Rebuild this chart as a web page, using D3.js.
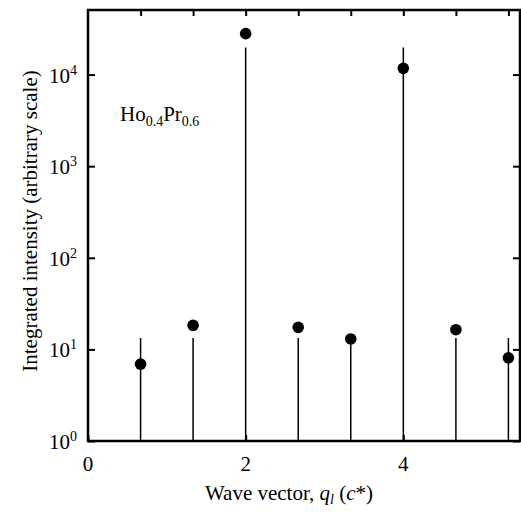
<!DOCTYPE html>
<html>
<head>
<meta charset="utf-8">
<script src="https://cdn.jsdelivr.net/npm/d3@7"></script>
<style>
body{margin:0;background:#fff}
</style>
</head>
<body>
<div id="chart"></div>
<script>
// wave vector positions (c*)
var qPos = [0.667, 1.333, 2, 2.667, 3.333, 4, 4.667, 5.333]
// measured integrated intensity (dots)
var measured = [6.9, 18.3, 28000, 17.4, 13.0, 11700, 16.4, 8.1]
// calculated intensity (stems)
var calc = [13.3, 13.3, 19800, 13.3, 13.3, 19800, 13.3, 13.3]
var xTicks = [0, 2, 4]
var xMinor = [0.667, 1.333, 2, 2.667, 3.333, 4, 4.667, 5.333]
var yTicks = [1, 10, 100, 1000, 10000]

var W = 521, H = 515
var m = {l:88, r:1, t:10, b:74}
var FONT = "'Liberation Serif', 'Times New Roman', Times, serif"

var svg = d3.select("#chart").append("svg").attr("width",W).attr("height",H)
	.attr("font-family",FONT)

var x = d3.scaleLinear().domain([0,5.48]).range([m.l, W-m.r])
var y = d3.scaleLog().domain([1, Math.pow(10,4.705)]).range([H-m.b, m.t])

// stems
svg.selectAll("line.stem").data(qPos).enter().append("line")
	.attr("class","stem")
	.attr("x1",function(d){return x(d)}).attr("x2",function(d){return x(d)})
	.attr("y1",y(1)).attr("y2",function(d,i){return y(calc[i])})
	.attr("stroke","#000").attr("stroke-width",1.5)

// dots
svg.selectAll("circle").data(qPos).enter().append("circle")
	.attr("cx",function(d){return x(d)})
	.attr("cy",function(d,i){return y(measured[i])})
	.attr("r",5.8).attr("fill","#000")

// left axis
var yl = svg.append("g").attr("transform","translate("+m.l+",0)")
	.call(d3.axisRight(y).tickValues(yTicks).tickSize(7).tickFormat(""))
yl.select(".domain").remove()
yl.selectAll("line").attr("stroke-width",2)
svg.selectAll("text.ylab").data(yTicks).enter().append("text")
	.attr("class","ylab")
	.attr("x",m.l-11).attr("y",function(d){return y(d)+8})
	.attr("text-anchor","end").attr("font-family",FONT).style("font-size","21px")
	.each(function(d){
		var e = Math.round(Math.log10(d))
		var t = d3.select(this)
		t.append("tspan").text("10")
		t.append("tspan").text(e).attr("dy",-8).style("font-size","14px")
	})

// right axis
var yr = svg.append("g").attr("transform","translate("+(W-m.r)+",0)")
	.call(d3.axisLeft(y).tickValues(yTicks).tickSize(7).tickFormat(""))
yr.select(".domain").remove()
yr.selectAll("line").attr("stroke-width",2)

// bottom axis
var xb = svg.append("g").attr("transform","translate(0,"+(H-m.b)+")")
	.call(d3.axisTop(x).tickValues(xTicks).tickSize(6).tickFormat(""))
xb.select(".domain").remove()
xb.selectAll("line").attr("stroke-width",2)
svg.selectAll("text.xlab").data(xTicks).enter().append("text")
	.attr("class","xlab")
	.attr("x",function(d){return x(d)}).attr("y",H-m.b+30)
	.attr("text-anchor","middle").attr("font-family",FONT).style("font-size","21px")
	.text(function(d){return d})

// top axis
var xt = svg.append("g").attr("transform","translate(0,"+m.t+")")
	.call(d3.axisBottom(x).tickValues(xMinor).tickSize(6).tickFormat(""))
xt.select(".domain").remove()
xt.selectAll("line").attr("stroke-width",2)

// frame
svg.append("rect").attr("x",m.l).attr("y",m.t)
	.attr("width",W-m.r-m.l).attr("height",H-m.b-m.t)
	.attr("fill","none").attr("stroke","#000").attr("stroke-width",2.5)

// axis titles
svg.append("text").attr("transform","translate(37,221) rotate(-90)")
	.attr("text-anchor","middle").attr("font-family",FONT).style("font-size","21px")
	.text("Integrated intensity (arbitrary scale)")

var xt2 = svg.append("text").attr("x",289).attr("y",500)
	.attr("text-anchor","middle").attr("font-family",FONT).style("font-size","21px")
xt2.append("tspan").text("Wave vector, ")
xt2.append("tspan").text("q").style("font-style","italic")
xt2.append("tspan").text("l").style("font-style","italic").style("font-size","14px").attr("dy",4)
xt2.append("tspan").text(" (").attr("dy",-4)
xt2.append("tspan").text("c").style("font-style","italic")
xt2.append("tspan").text("*)")

// compound label
var lab = svg.append("text").attr("x",120).attr("y",121).attr("font-family",FONT).style("font-size","21px")
lab.append("tspan").text("Ho")
lab.append("tspan").text("0.4").style("font-size","14px").attr("dy",5)
lab.append("tspan").text("Pr").attr("dy",-5)
lab.append("tspan").text("0.6").style("font-size","14px").attr("dy",5)
</script>
</body>
</html>
